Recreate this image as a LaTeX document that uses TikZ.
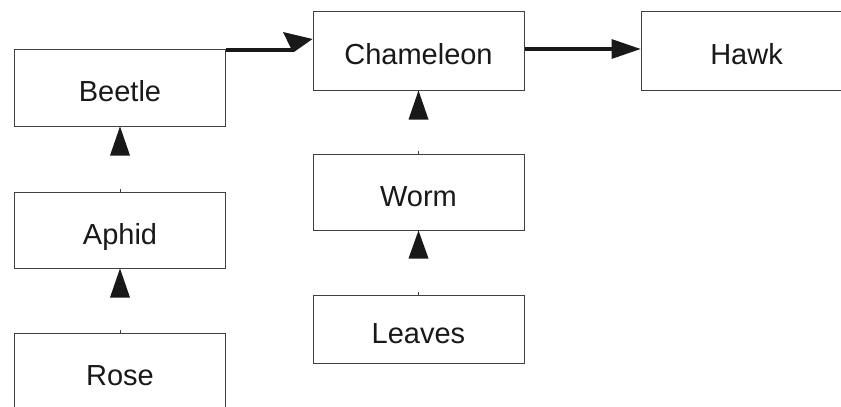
\documentclass[tikz,border=0pt]{standalone}
\usepackage{fontspec}
\setmainfont{Liberation Sans}
\usetikzlibrary{calc}
\begin{document}
\begin{tikzpicture}[x=1pt,y=-1pt,
  box/.style={draw=black!75, line width=1pt, fill=white, inner sep=0pt,
    minimum width=211pt, font=\fontsize{29}{34}\selectfont, text=black!90,
    text height=28pt, text depth=0pt},
  conn/.style={line width=4.5pt, black!90},
  head/.style={fill=black!90},
  tick/.style={black!75, line width=0.8pt}]
\useasboundingbox (0,0) rectangle (841,407);
\clip (0,0) rectangle (841,407);
\node[box, minimum height=77pt] (Beetle) at (120,87.5) {Beetle};
\node[box, minimum height=76pt] (Aphid) at (120,230) {Aphid};
\node[box, minimum height=76pt] (Rose) at (120,371) {Rose};
\node[box, minimum height=79pt] (Chameleon) at (418.5,50.5) {Chameleon};
\node[box, minimum height=76pt] (Worm) at (418.5,192) {Worm};
\node[box, minimum height=68pt] (Leaves) at (418.5,329) {Leaves};
\node[box, minimum height=79pt] (Hawk) at (746.5,50.5) {Hawk};
% Beetle -> Chameleon
\coordinate (bs) at ($(Beetle.north east)+(0,1.5)$);
\coordinate (bc) at ($(Beetle.north east)+(68,1.5)$);
\coordinate (y39) at (0,39);
\coordinate (btip) at (Chameleon.west |- y39);
\draw[line width=3.5pt, black!90] (bs) -- (bc);
\fill[head] ($(bc)+(-11,-18)$) -- (btip) -- ($(bc)+(0,2)$) -- ($(bc)+(-3,-1.5)$) -- cycle;
% Chameleon -> Hawk
\coordinate (cs) at ($(Chameleon.east)+(0,-1.5)$);
\coordinate (ht) at ($(Hawk.west)+(0,-1.5)$);
\draw[conn] (cs) -- ($(ht)+(-28,0)$);
\fill[head] (ht) -- ++(-29,-10) -- ++(0,20) -- cycle;
% vertical arrows
\fill[head] (Beetle.south) -- ++(-10,29) -- ++(20,0) -- cycle;
\draw[tick] (Aphid.north) -- ++(0,-2.5);
\fill[head] (Aphid.south) -- ++(-10,29) -- ++(20,0) -- cycle;
\draw[tick] (Rose.north) -- ++(0,-2.5);
\fill[head] (Chameleon.south) -- ++(-10,29) -- ++(20,0) -- cycle;
\draw[tick] (Worm.north) -- ++(0,-2.5);
\fill[head] (Worm.south) -- ++(-10,28) -- ++(20,0) -- cycle;
\draw[tick] (Leaves.north) -- ++(0,-2.5);
\end{tikzpicture}
\end{document}
